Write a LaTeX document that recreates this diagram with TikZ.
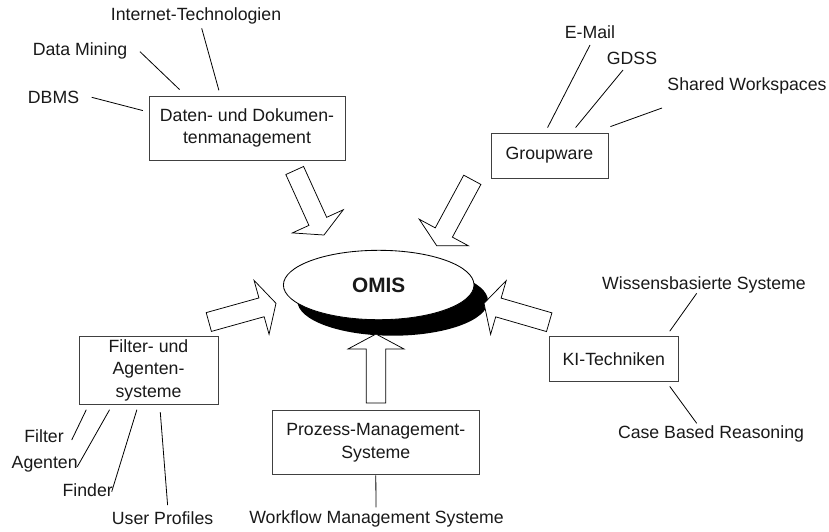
\documentclass[tikz,border=0pt]{standalone}
\usepackage{fontspec}
\setmainfont{Liberation Sans}
\usetikzlibrary{calc,shapes.geometric,shadows}
% hollow block arrow from tail #1 to tip #2; #3 names the point where the head starts
\newcommand\blockarr[3]{%
  \coordinate (#3) at ($(#2)!15pt!(#1)$);
  \draw[blockarrow] ($(#1)!9.75pt!90:(#2)$) -- ($(#3)!9.75pt!90:(#2)$)
    -- ($(#3)!28pt!90:(#2)$) -- (#2) -- ($(#3)!28pt!-90:(#2)$)
    -- ($(#3)!9.75pt!-90:(#2)$) -- ($(#1)!9.75pt!-90:(#2)$) -- cycle;}
\begin{document}
\begin{tikzpicture}[x=1pt,y=-1pt,
  every node/.style={font=\fontsize{17.7}{22.5}\selectfont, text=black!90},
  box/.style={draw=black!75, line width=0.85pt, fill=white, align=center, inner sep=0pt},
  lbl/.style={inner sep=0pt},
  conn/.style={draw=black, line width=0.8pt},
  blockarrow/.style={draw=black, fill=white, line width=0.75pt, line join=miter},
]
\useasboundingbox (0,0) rectangle (829,531);

% central ellipse with its dark drop shadow
\node[draw=black, line width=0.85pt, fill=white, ellipse, inner sep=0pt,
      minimum width=190.6pt, minimum height=69.4pt,
      drop shadow={shadow xshift=14pt, shadow yshift=-16pt, opacity=1, fill=black},
      font=\fontsize{20.8}{24}\selectfont\bfseries] (omis) at (378.7,285) {OMIS};

% surrounding boxes
\node[box, minimum width=196pt, minimum height=64pt] (daten) at (247,128) {Daten- und Dokumen-\\tenmanagement};
\node[box, minimum width=117pt, minimum height=45pt] (groupware) at (549.5,155.5) {Groupware};
\node[box, minimum width=139pt, minimum height=68pt] (filter) at (148.5,370) {Filter- und\\Agenten-\\systeme};
\node[box, minimum width=207pt, minimum height=63.6pt] (prozess) at (375.8,442.5) {Prozess-Management-\\Systeme};
\node[box, minimum width=129pt, minimum height=45.7pt] (ki) at (613.8,358.8) {KI-Techniken};

% labels
\node[lbl] (dbms) at (53.5,97) {DBMS};
\node[lbl] (mining) at (80,51) {Data Mining};
\node[lbl] (internet) at (196,16) {Internet-Technologien};
\node[lbl] (email) at (590,32) {E-Mail};
\node[lbl] (gdss) at (632,58) {GDSS};
\node[lbl] (shared) at (747,86) {Shared Workspaces};
\node[lbl] (flt) at (44,436) {Filter};
\node[lbl] (agt) at (44.7,464) {Agenten};
\node[lbl] (finder) at (87.7,490) {Finder};
\node[lbl] (profiles) at (162.6,518.5) {User Profiles};
\node[lbl] (workflow) at (376.5,518.5) {Workflow Management Systeme};
\node[lbl] (wbs) at (704,285) {Wissensbasierte Systeme};
\node[lbl] (cbr) at (711,434) {Case Based Reasoning};

% connectors between labels and boxes
\draw[conn] ($(dbms)+(38.2,0.3)$) -- ($(daten.north west)+(-5.7,15)$);
\draw[conn] ($(mining)+(60,0.7)$) -- ($(daten.north west)+(31,-6)$);
\draw[conn] ($(internet)+(5.7,12.3)$) -- ($(daten.north west)+(70.3,-5.3)$);
\draw[conn] ($(email)+(0,13)$) -- ($(groupware.north west)+(57,-5)$);
\draw[conn] ($(gdss)+(-9,12)$) -- ($(groupware.north west)+(85,-5)$);
\draw[conn] ($(shared)+(-85,22)$) -- ($(groupware.north east)+(2,-6)$);
\draw[conn] ($(flt)+(27.7,4)$) -- ($(filter.south west)+(7.7,5.3)$);
\draw[conn] ($(agt)+(32.6,2.7)$) -- ($(filter.south west)+(31,5.3)$);
\draw[conn] ($(finder)+(24,1.7)$) -- ($(filter.south west)+(58.3,5.3)$);
\draw[conn] ($(profiles)+(5,-13.5)$) -- ($(filter.south west)+(81.7,7.7)$);
\draw[conn] ($(workflow)+(-0.5,-11.2)$) -- ($(prozess.south)+(0,0.7)$);
\draw[conn] ($(wbs)+(-7.3,8.3)$) -- ($(ki.north east)+(-9,-4.3)$);
\draw[conn] ($(cbr)+(-14.3,-10.7)$) -- ($(ki.south east)+(-9,4.3)$);

% block arrows pointing at the centre
\coordinate (t1) at (294.7,170.5); \coordinate (h1) at (324,235);
\coordinate (t2) at (472.3,179.8); \coordinate (h2) at (436.7,245.7);
\coordinate (t3) at (208.8,322);   \coordinate (h3) at (276,303.3);
\coordinate (t4) at (376,403);     \coordinate (h4) at (376,334);
\coordinate (t5) at (549.2,322.2); \coordinate (h5) at (484,303.3);
\blockarr{t1}{h1}{b1}
\blockarr{t2}{h2}{b2}
\blockarr{t3}{h3}{b3}
\blockarr{t4}{h4}{b4}
\blockarr{t5}{h5}{b5}
\end{tikzpicture}
\end{document}
